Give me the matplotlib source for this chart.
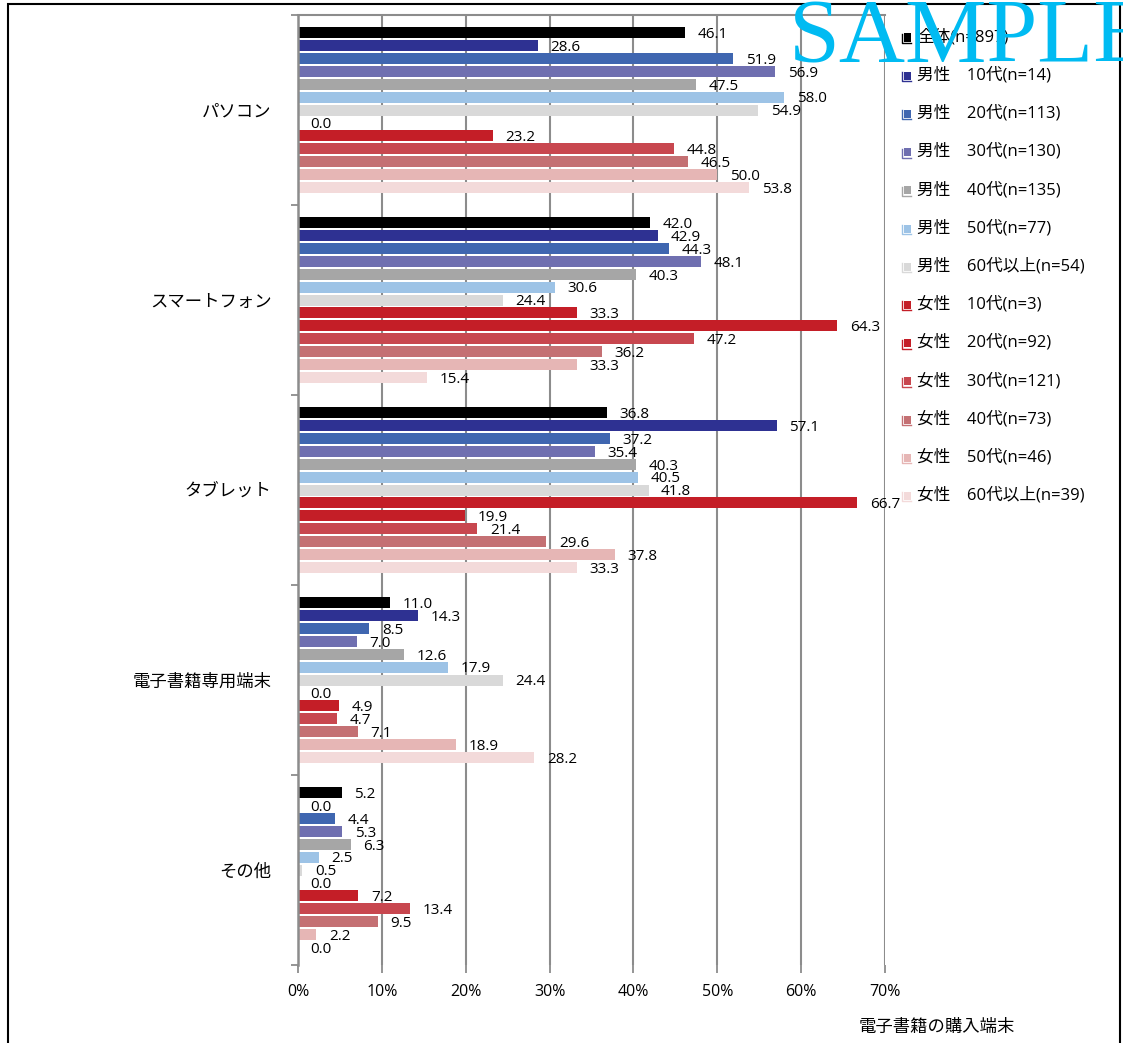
import matplotlib
matplotlib.use("Agg")
import matplotlib.pyplot as plt
from matplotlib.patches import Rectangle
from matplotlib.lines import Line2D
import numpy as np

plt.rcParams['font.family'] = ['Noto Sans CJK JP', 'DejaVu Sans']
mixed_family = ['Open Sans', 'Noto Sans CJK JP', 'DejaVu Sans']

# Purchase devices (categories, top to bottom)
categories = ["パソコン", "スマートフォン", "タブレット", "電子書籍専用端末", "その他"]

# Respondent groups
series_names = [
    "全体(n=897)",
    "男性\u300010代(n=14)",
    "男性\u300020代(n=113)",
    "男性\u300030代(n=130)",
    "男性\u300040代(n=135)",
    "男性\u300050代(n=77)",
    "男性\u300060代以上(n=54)",
    "女性\u300010代(n=3)",
    "女性\u300020代(n=92)",
    "女性\u300030代(n=121)",
    "女性\u300040代(n=73)",
    "女性\u300050代(n=46)",
    "女性\u300060代以上(n=39)",
]

series_colors = [
    "#000000", "#2E3192", "#3F66B0", "#6F6FB0", "#A6A6A6", "#9DC3E6", "#D9D9D9",
    "#C41E27", "#C41E27", "#C8474F", "#C47073", "#E6B6B5", "#F3DADA",
]

# Share (%) per category, one list per respondent group
zentai      = [46.1, 42.0, 36.8, 11.0, 5.2]
male_10s    = [28.6, 42.9, 57.1, 14.3, 0.0]
male_20s    = [51.9, 44.3, 37.2, 8.5, 4.4]
male_30s    = [56.9, 48.1, 35.4, 7.0, 5.3]
male_40s    = [47.5, 40.3, 40.3, 12.6, 6.3]
male_50s    = [58.0, 30.6, 40.5, 17.9, 2.5]
male_60plus = [54.9, 24.4, 41.8, 24.4, 0.5]
female_10s  = [0.0, 33.3, 66.7, 0.0, 0.0]
female_20s  = [23.2, 64.3, 19.9, 4.9, 7.2]
female_30s  = [44.8, 47.2, 21.4, 4.7, 13.4]
female_40s  = [46.5, 36.2, 29.6, 7.1, 9.5]
female_50s  = [50.0, 33.3, 37.8, 18.9, 2.2]
female_60plus = [53.8, 15.4, 33.3, 28.2, 0.0]

series_values = [zentai, male_10s, male_20s, male_30s, male_40s, male_50s, male_60plus,
                 female_10s, female_20s, female_30s, female_40s, female_50s, female_60plus]

xticks = [0, 10, 20, 30, 40, 50, 60, 70]
xtick_labels = ["0%", "10%", "20%", "30%", "40%", "50%", "60%", "70%"]

W, H = 1123, 1043
fig = plt.figure(figsize=(W / 100, H / 100), dpi=100)
ax = fig.add_axes([298 / W, 1 - 965 / H, 587 / W, 950 / H])

n_series = len(series_values)
step = 12.9 / 190.0
bar_h = 11.0 / 190.0
cat_pos = np.arange(len(categories))

grid_color = "#8C8C8C"
for x in xticks[1:]:
    ax.axvline(x, color=grid_color, linewidth=1.5, zorder=0)

for j, (vals, color) in enumerate(zip(series_values, series_colors)):
    ypos = cat_pos + (j - (n_series - 1) / 2) * step
    ax.barh(ypos, vals, height=bar_h, color=color, zorder=2)
    for y, v in zip(ypos, vals):
        ax.text(v + 1.5, y + 0.01, f"{v:.1f}", fontsize=11, family="Open Sans",
                ha="left", va="center", color="#000000", zorder=3)

ax.set_xlim(0, 70)
ax.set_ylim(len(categories) - 0.5, -0.5)

ax.set_xticks(xticks)
ax.set_xticklabels(xtick_labels, fontsize=11.5, family="Open Sans")
ax.tick_params(axis="x", direction="out", length=6, width=1.3, color=grid_color, pad=8)

ax.set_yticks(cat_pos)
ax.set_yticklabels(categories, fontsize=12.5)
ax.set_yticks(np.arange(len(categories) + 1) - 0.5, minor=True)
ax.tick_params(axis="y", which="major", length=0, pad=19)
ax.tick_params(axis="y", which="minor", direction="out", length=5, width=1.3, color=grid_color)

for side in ["right", "bottom"]:
    ax.spines[side].set_visible(False)
ax.spines["left"].set_color(grid_color)
ax.spines["left"].set_linewidth(1.8)
ax.spines["top"].set_color(grid_color)
ax.spines["top"].set_linewidth(1.5)

# Legend drawn at the right side
leg_y0, leg_dy = 37, 38.2
for j, (name, color) in enumerate(zip(series_names, series_colors)):
    yc = leg_y0 + j * leg_dy
    fig.add_artist(Line2D([902 / W, 902 / W, 911 / W], [1 - (yc - 3) / H, 1 - (yc + 6) / H, 1 - (yc + 6) / H],
                          color=color, linewidth=1.0, transform=fig.transFigure))
    fig.add_artist(Rectangle((903.5 / W, 1 - (yc + 4.5) / H), 7 / W, 8 / H, facecolor=color,
                             edgecolor="none", transform=fig.transFigure))
    fig.text(917 / W, 1 - yc / H, name, fontsize=12, family=mixed_family, ha="left", va="center")

# Axis title
fig.text(1015 / W, 1 - 1027 / H, "電子書籍の購入端末", fontsize=12.5, ha="right", va="center")

# Outer frame
fig.add_artist(Rectangle((8 / W, -0.05), 1112 / W, 1 - 4 / H + 0.05, fill=False,
                         edgecolor="#000000", linewidth=1.5, transform=fig.transFigure))

# Watermark
fig.text(789 / W, 1 - 62 / H, "SAMPLE", fontsize=66, family="Liberation Serif",
         color="#00BBF2", ha="left", va="baseline", zorder=10)

fig.savefig("out.png", dpi=100)
